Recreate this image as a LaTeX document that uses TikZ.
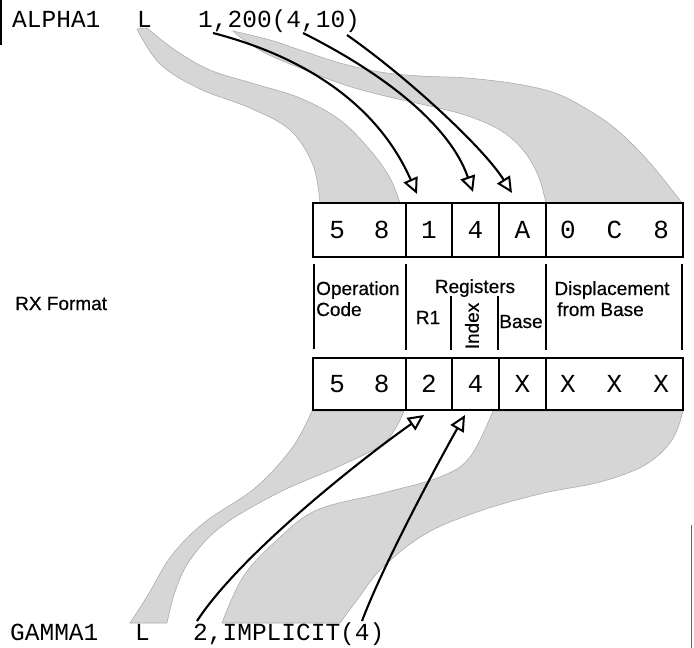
\documentclass[tikz,border=0pt]{standalone}
\usepackage{fontspec}
\setmainfont{Liberation Sans}[FakeBold=0.6]
\newfontfamily\cour{Liberation Mono}
\newfontfamily\labfont{Liberation Sans}[FakeBold=0.5]
\usetikzlibrary{arrows.meta}
\begin{document}
\begin{tikzpicture}[x=1pt,y=-1pt,
  band/.style={fill=black!16, draw=black!32, line width=0.6pt},
  cell/.style={draw, line width=2.3pt, inner sep=0pt, anchor=center, font=\cour\fontsize{26}{26}\selectfont},
  code/.style={font=\cour\fontsize{24.5}{24.5}\selectfont, inner sep=0pt, anchor=base west},
  lbl/.style={font=\labfont\fontsize{19}{20}\selectfont, inner sep=0pt},
  arr/.style={line width=2.1pt, -{Triangle[fill=white, length=16pt, width=15pt, line width=2pt]}},
  sep/.style={line width=1.1pt},
  edge/.style={line width=1.6pt}]
\useasboundingbox (0,0) rectangle (694,648);
% gray bands
\path[band] plot[smooth, tension=0.6] coordinates {(137,29) (160,64) (200,89) (250,108) (290,130) (313,165) (320,203)}
  -- plot[smooth, tension=0.6] coordinates {(400,203) (390,178) (370,150) (340,120) (300,98) (255,84) (210,70) (175,50) (147,28)} -- cycle;
\path[band] plot[smooth, tension=0.6] coordinates {(233,31) (270,40) (300,50) (340,63) (380,72) (420,76) (467,78) (517,84) (555,93) (585,108) (617,130) (650,163) (682,203)}
  -- plot[smooth, tension=0.6] coordinates {(546,203) (538,175) (523,150) (500,130) (465,115) (425,105) (385,96) (345,85) (300,68) (265,53) (240,37)} -- cycle;
\path[band] plot[smooth, tension=0.6] coordinates {(312,411) (292,448) (255,488) (205,522) (172,555) (148,595) (130,623)}
  -- plot[smooth, tension=0.6] coordinates {(167,623) (175,592) (190,560) (222,526) (280,492) (340,466) (385,442) (404,411)} -- cycle;
\path[band] plot[smooth, tension=0.6] coordinates {(493,411) (470,457) (440,477) (383,493) (317,510) (277,540) (243,577) (222,623)}
  -- plot[smooth, tension=0.6] coordinates {(340,623) (357,600) (383,567) (427,533) (483,510) (544,493) (600,482) (645,465) (672,440) (683,411)} -- cycle;
% page edges
\draw[edge] (1,0) -- (1,45);
\draw[line width=1pt, black!60] (691,525) -- (691,648);
% statements
\node[code] (alpha) at (12,27) {ALPHA1};
\node[code] (alphaL) at (137,27) {L};
\node[code] (alphaop) at (198,27) {1,200(4,10)};
\node[code] (gamma) at (10,640) {GAMMA1};
\node[code] (gammaL) at (135,640) {L};
\node[code] (gammaop) at (193,640) {2,IMPLICIT(4)};
% top instruction
\node[cell, minimum width=93pt, minimum height=54pt] (top-op) at (359.5,230) {5\hspace{29pt}8};
\node[cell, minimum width=46pt, minimum height=54pt] (top-r1) at (429,230) {1};
\node[cell, minimum width=47pt, minimum height=54pt] (top-x) at (475.5,230) {4};
\node[cell, minimum width=47pt, minimum height=54pt] (top-b) at (522.5,230) {A};
\node[cell, minimum width=137pt, minimum height=54pt] (top-d) at (614.5,230) {0\hspace{31pt}C\hspace{31pt}8};
% bottom instruction
\node[cell, minimum width=93pt, minimum height=52pt] (bot-op) at (359.5,384) {5\hspace{29pt}8};
\node[cell, minimum width=46pt, minimum height=52pt] (bot-r1) at (429,384) {2};
\node[cell, minimum width=47pt, minimum height=52pt] (bot-x) at (475.5,384) {4};
\node[cell, minimum width=47pt, minimum height=52pt] (bot-b) at (522.5,384) {X};
\node[cell, minimum width=137pt, minimum height=52pt] (bot-d) at (614.5,384) {X\hspace{31pt}X\hspace{31pt}X};
% field labels
\draw[sep] (314,264) -- (314,349);
\draw[sep] (406,264) -- (406,350);
\draw[sep] (546,264) -- (546,350);
\draw[sep] (682,264) -- (682,350);
\draw[sep] (451,296) -- (451,350);
\draw[sep] (498,296) -- (498,350);
\node[lbl, anchor=base west] (l-op1) at (316,295) {Operation};
\node[lbl, anchor=base west] (l-op2) at (316,316) {Code};
\node[lbl, anchor=base] (l-reg) at (475,293) {Registers};
\node[lbl, anchor=base] (l-r1) at (428,324) {R1};
\node[lbl, rotate=90] (l-x) at (472,326) {Index};
\node[lbl, anchor=base] (l-b) at (521,328) {Base};
\node[lbl, anchor=base] (l-d1) at (612,295) {Displacement};
\node[lbl, anchor=base west] (l-d2) at (557,316) {from Base};
\node[lbl, anchor=base west] (rx) at (15,310) {RX Format};
% arrows
\coordinate (s1) at (213,33);
\coordinate (s2) at (303,33);
\coordinate (s3) at (347,35);
\coordinate (e1) at (417,194);
\coordinate (e2) at (473,192);
\coordinate (e3) at (512,193);
\coordinate (s4) at (197,621);
\coordinate (s5) at (362,621);
\coordinate (e4) at (424,415);
\coordinate (e5) at (465,415);
\draw[arr] (s1) .. controls (313,59) and (380,110) .. (e1);
\draw[arr] (s2) .. controls (373,68) and (448,120) .. (e2);
\draw[arr] (s3) .. controls (407,77) and (483,147) .. (e3);
\draw[arr] (s4) .. controls (240,555) and (360,460) .. (e4);
\draw[arr] (s5) .. controls (385,560) and (445,450) .. (e5);
\end{tikzpicture}
\end{document}
